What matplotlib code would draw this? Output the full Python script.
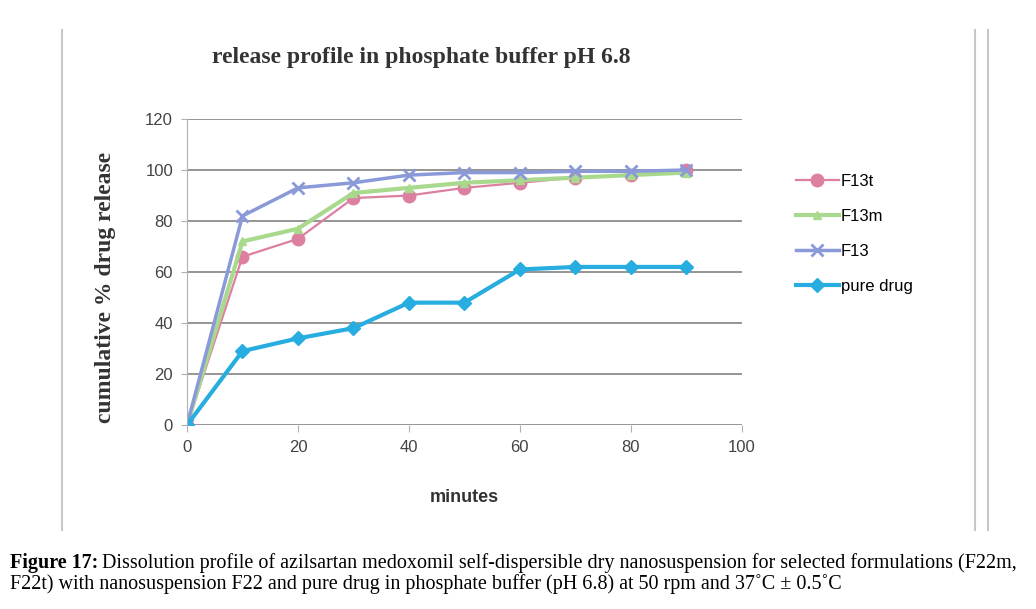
import matplotlib.pyplot as plt

minutes = [0, 10, 20, 30, 40, 50, 60, 70, 80, 90]
f13t = [0, 66, 73, 89, 90, 93, 95, 97, 98, 100]
f13m = [0, 72, 77, 91, 93, 95, 96, 97, 98, 99]
f13 = [0, 82, 93, 95, 98, 99, 99, 99.5, 99.5, 100]
pure_drug = [0, 29, 34, 38, 48, 48, 61, 62, 62, 62]

fig = plt.figure(figsize=(10.36, 6.09), dpi=100)
ax = fig.add_axes([0.1805, 0.302, 0.5355, 0.5026])

ax.plot(minutes, f13t, color='#dc7fa0', lw=1.6, marker='o', ms=9, label='F13t')
ax.plot(minutes, f13m, color='#a9d98c', lw=3, marker='^', ms=6, label='F13m')
ax.plot(minutes, f13, color='#8a9ad8', lw=2.5, marker='x', ms=8, mew=2, label='F13')
ax.plot(minutes, pure_drug, color='#28ade0', lw=3, marker='D', ms=7, label='pure drug')

ax.set_xlim(0, 100)
ax.set_ylim(0, 120)
ax.set_xticks(range(0, 101, 20))
ax.set_yticks(range(0, 121, 20))
ax.grid(axis='y', color='#8c8c8c', lw=1.3)
ax.set_axisbelow(True)
for s in ['top', 'right', 'bottom']:
    ax.spines[s].set_visible(False)
ax.spines['left'].set_color('#b0b0b0')
ax.tick_params(axis='both', colors='#b0b0b0', labelcolor='#444444', labelsize=12)
ax.tick_params(axis='y', length=4, pad=6)
ax.tick_params(axis='x', length=5, pad=6)
for lab in ax.get_xticklabels() + ax.get_yticklabels():
    lab.set_family('Liberation Sans')

ax.set_xlabel('minutes', fontsize=13, fontweight='bold', family='Liberation Sans',
              color='#333333', labelpad=24)
ax.set_ylabel('cumulative % drug release', fontsize=17, fontweight='bold',
              family='Liberation Serif', color='#333333')
ax.yaxis.set_label_coords(-0.128, 0.45)

fig.text(0.407, 0.905, 'release profile in phosphate buffer pH 6.8', fontsize=17,
         fontweight='bold', family='Liberation Serif', color='#333333', ha='center', va='center')

ax.legend(loc='upper left', bbox_to_anchor=(1.07, 0.87), frameon=False,
          labelspacing=1.2, handlelength=2.6, handletextpad=0.1,
          prop={'family': 'Liberation Sans', 'size': 12})

# page border lines
fig.add_artist(plt.Line2D([0.06, 0.06], [0.13, 0.95], color='#c8c8c8', lw=1.5))
fig.add_artist(plt.Line2D([0.941, 0.941], [0.13, 0.95], color='#c8c8c8', lw=1.5))
fig.add_artist(plt.Line2D([0.954, 0.954], [0.13, 0.95], color='#c8c8c8', lw=1.5))

# caption
t1 = fig.text(0.01, 0.075, 'Figure 17:', fontsize=14.5, fontweight='bold',
              family='Liberation Serif', va='center')
fig.canvas.draw()
bb = t1.get_window_extent().transformed(fig.transFigure.inverted())
fig.text(bb.x1 + 0.003, 0.075, 'Dissolution profile of azilsartan medoxomil self-dispersible dry nanosuspension for selected formulations (F22m,',
         fontsize=14.5, family='Liberation Serif', va='center')
fig.text(0.01, 0.041, 'F22t) with nanosuspension F22 and pure drug in phosphate buffer (pH 6.8) at 50 rpm and 37\u02daC \u00b1 0.5\u02daC',
         fontsize=14.5, family='Liberation Serif', va='center')

fig.savefig('out.png', dpi=100)
